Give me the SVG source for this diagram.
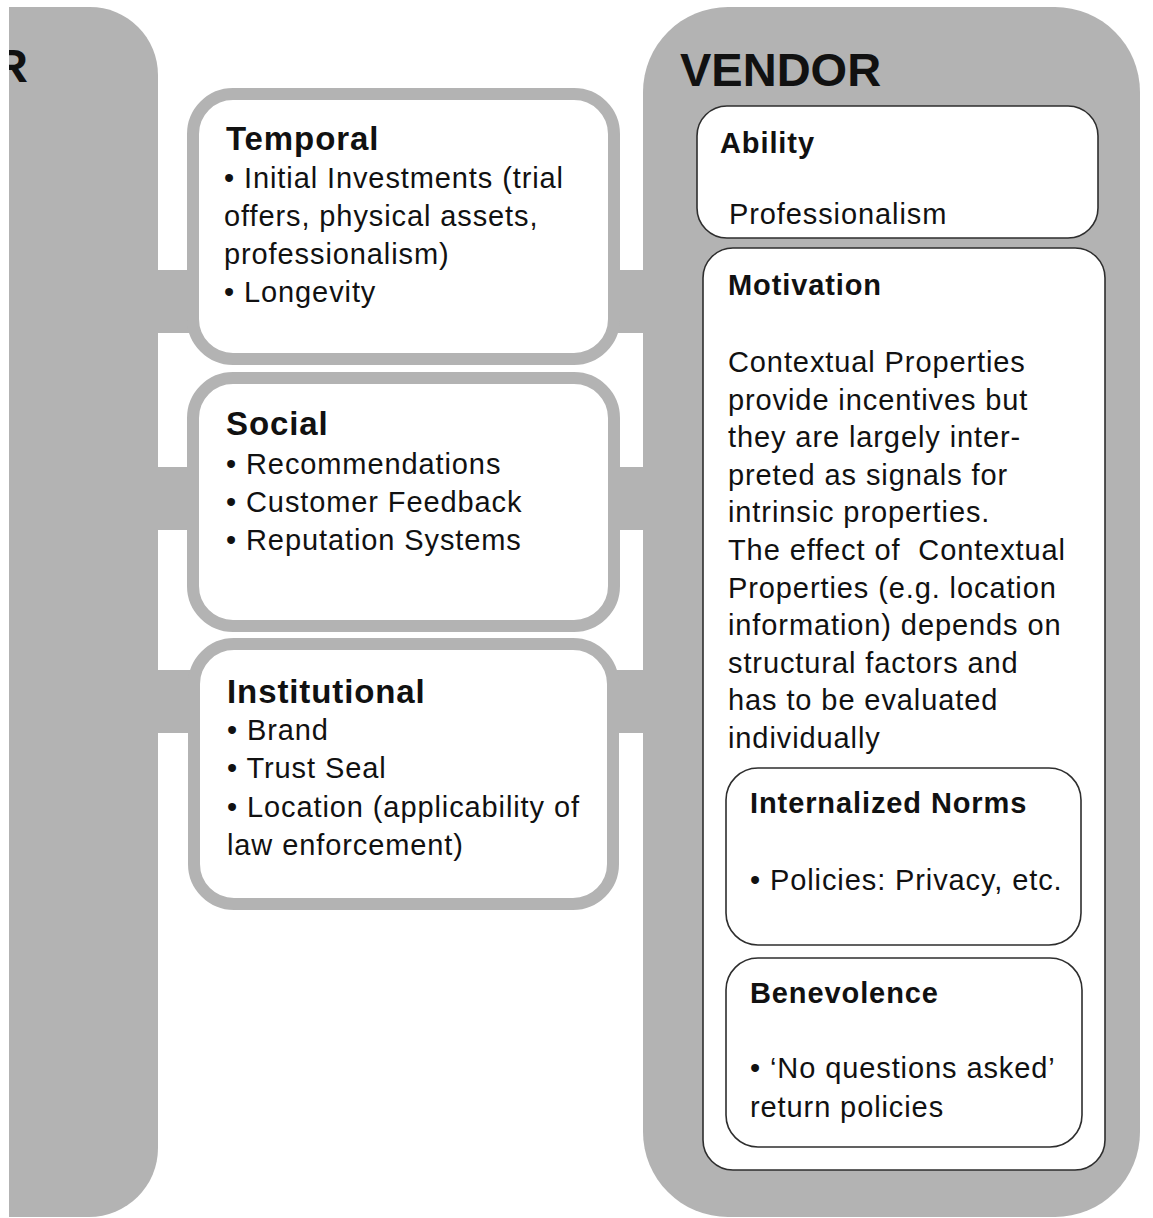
<svg xmlns="http://www.w3.org/2000/svg" width="1153" height="1218" viewBox="0 0 1153 1218">
  <style>
    .panel { fill: #b3b3b3; }
    .bar { fill: #b3b3b3; }
    .cat { fill: #ffffff; stroke: #b3b3b3; stroke-width: 12; }
    .sub { fill: #ffffff; stroke: #2e2e2e; stroke-width: 1.6; }
    text { fill: #111111; font-family: "Liberation Sans", Arial, sans-serif; }
    .title { font-size: 47px; font-weight: bold; }
    .head { font-size: 33px; font-weight: bold; letter-spacing: 0.9px; }
    .shead { font-size: 29px; font-weight: bold; letter-spacing: 0.9px; }
    .body { font-size: 29px; letter-spacing: 0.9px; }
  </style>
  <defs>
    <clipPath id="leftClip">
      <rect x="9" y="0" width="200" height="1218"/>
    </clipPath>
  </defs>

  <rect x="0" y="0" width="1153" height="1218" fill="#ffffff"/>

  <!-- connectors: horizontal bars linking the side panels to the category boxes -->
  <g id="connectors">
    <rect class="bar" x="150" y="270" width="500" height="63"/>
    <rect class="bar" x="150" y="467" width="500" height="63"/>
    <rect class="bar" x="150" y="670" width="500" height="63"/>
  </g>

  <!-- left side panel (partly cut at the left border) -->
  <g id="consumer">
    <path class="panel" d="M9,7 H90 A68,68 0 0 1 158,75 V1148 A69,69 0 0 1 89,1217 H9 Z"/>
    <text class="title" x="-6" y="82" clip-path="url(#leftClip)">R</text>
  </g>

  <!-- vendor panel -->
  <g id="vendor">
    <rect class="panel" x="643" y="7" width="497" height="1210" rx="85" ry="85"/>
    <text class="title" x="680" y="86">VENDOR</text>
  </g>

  <!-- category boxes -->
  <g id="temporal">
    <rect class="cat" x="193" y="94" width="421" height="265" rx="40" ry="40"/>
    <text class="head" x="226" y="150">Temporal</text>
    <text class="body" x="224" y="188">• Initial Investments (trial<tspan x="224" dy="38">offers, physical assets,</tspan><tspan x="224" dy="38">professionalism)</tspan><tspan x="224" dy="38">• Longevity</tspan></text>
  </g>

  <g id="social">
    <rect class="cat" x="193" y="378" width="421" height="248" rx="40" ry="40"/>
    <text class="head" x="226" y="435">Social</text>
    <text class="body" x="226" y="474">• Recommendations<tspan x="226" dy="38">• Customer Feedback</tspan><tspan x="226" dy="38">• Reputation Systems</tspan></text>
  </g>

  <g id="institutional">
    <rect class="cat" x="194" y="644" width="419" height="260" rx="40" ry="40"/>
    <text class="head" x="227" y="703">Institutional</text>
    <text class="body" x="227" y="740">• Brand<tspan x="227" dy="38">• Trust Seal</tspan><tspan x="227" dy="39">• Location (applicability of</tspan><tspan x="227" dy="38">law enforcement)</tspan></text>
  </g>

  <!-- vendor sub-boxes -->
  <g id="ability">
    <rect class="sub" x="697" y="106" width="401" height="132" rx="30" ry="30"/>
    <text class="shead" x="720" y="153">Ability</text>
    <text class="body" x="729" y="224">Professionalism</text>
  </g>

  <g id="motivation">
    <rect class="sub" x="703" y="248" width="402" height="922" rx="30" ry="30"/>
    <text class="shead" x="728" y="295">Motivation</text>
    <text class="body" x="728" y="372" style="white-space:pre">Contextual Properties<tspan x="728" dy="37.6">provide incentives but</tspan><tspan x="728" dy="37.6">they are largely inter-</tspan><tspan x="728" dy="37.6">preted as signals for</tspan><tspan x="728" dy="37.6">intrinsic properties.</tspan><tspan x="728" dy="37.6">The effect of  Contextual</tspan><tspan x="728" dy="37.6">Properties (e.g. location</tspan><tspan x="728" dy="37.6">information) depends on</tspan><tspan x="728" dy="37.6">structural factors and</tspan><tspan x="728" dy="37.6">has to be evaluated</tspan><tspan x="728" dy="37.6">individually</tspan></text>
  </g>

  <g id="internalized-norms">
    <rect class="sub" x="726" y="768" width="355" height="177" rx="32" ry="32"/>
    <text class="shead" x="750" y="813">Internalized Norms</text>
    <text class="body" x="750" y="890">• Policies: Privacy, etc.</text>
  </g>

  <g id="benevolence">
    <rect class="sub" x="726" y="958" width="356" height="189" rx="32" ry="32"/>
    <text class="shead" x="750" y="1003">Benevolence</text>
    <text class="body" x="750" y="1078">• ‘No questions asked’<tspan x="750" dy="39">return policies</tspan></text>
  </g>
</svg>
